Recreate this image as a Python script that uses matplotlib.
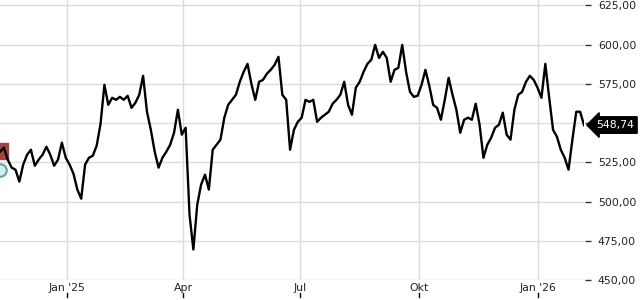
import matplotlib
matplotlib.use("Agg")
import matplotlib.pyplot as plt
import matplotlib.transforms as mtransforms
import pandas as pd

# ---- data ----
start_date = "2024-11-10"
closes = [
    531.7, 534.3, 526.7, 521.6, 520.3, 512.7, 523.5, 529.8, 533.0, 522.8,
    526.7, 529.8, 534.9, 529.8, 522.8, 526.7, 537.5, 527.9, 523.5, 517.7,
    507.6, 501.8, 523.5, 527.9, 529.2, 535.6, 549.6, 574.4, 561.6, 566.1,
    564.8, 566.7, 564.8, 567.4, 559.7, 562.9, 568.0, 580.1, 557.2, 545.7,
    531.7, 521.6, 527.9, 531.7, 536.2, 543.8, 558.5, 542.6, 547.0, 491.7,
    469.4, 498.0, 510.8, 517.1, 507.6, 533.0, 536.2, 539.4, 553.4, 561.6,
    564.8, 568.0, 576.3, 582.6, 587.7, 575.0, 564.8, 576.3, 577.5, 581.4,
    583.9, 587.1, 592.2, 568.0, 564.8, 533.0, 545.7, 550.8, 553.4, 564.8,
    563.5, 564.8, 550.8, 553.4, 555.3, 557.2, 562.3, 564.8, 568.0, 576.3,
    561.6, 555.3, 572.5, 576.3, 582.6, 587.7, 590.3, 599.8, 591.5, 595.4,
    591.5, 576.3, 583.9, 585.2, 599.8, 582.6, 569.9, 566.7, 567.4, 574.4,
    583.9, 573.7, 561.6, 559.7, 552.1, 564.8, 578.8, 568.0, 558.5, 543.8,
    552.1, 553.4, 552.1, 562.3, 548.9, 527.9, 536.2, 540.7, 547.0, 548.9,
    556.6, 542.6, 539.4, 558.5, 568.0, 569.9, 576.3, 580.1, 577.5, 572.5,
    566.1, 587.7, 566.1, 545.7, 541.3, 533.0, 527.9, 520.3, 539.4, 557.2,
    557.2, 548.74,
]
last_price = 548.74
event_red_price = 532.1
event_teal_price = 520.3

x_tick_dates = ["2025-01-01", "2025-04-01", "2025-07-01", "2025-10-01", "2026-01-01"]
x_tick_labels = ["Jan '25", "Apr", "Jul", "Okt", "Jan '26"]
y_ticks = [450, 475, 500, 525, 550, 575, 600, 625]

dates = pd.date_range(start_date, periods=len(closes), freq="3D")

# ---- figure ----
fig = plt.figure(figsize=(6.4, 3.0), dpi=100)
ax = fig.add_axes([0, 20 / 300, 584 / 640, 280 / 300])

grid_c = "#dcdcdc"
ax.plot(dates, closes, color="black", lw=1.7, zorder=3)

# event markers at the left edge
ax.plot([dates[0]], [event_red_price], marker="s", ms=12, color="#a5443d",
        zorder=2, linestyle="none")
ax.plot([dates[0]], [event_teal_price], marker="o", ms=9, mfc="#d3ecef",
        mec="#56a7b1", mew=1.5, zorder=2, linestyle="none")

ax.set_xlim(pd.Timestamp(start_date), pd.Timestamp(start_date) + pd.Timedelta(days=453))
ax.set_ylim(450, 628.4)

for s in ax.spines.values():
    s.set_visible(False)

ax.set_yticks(y_ticks)
# the 550 label sits under the last-price tag in the reference
ax.set_yticklabels(["" if v == 550 else f"{v:.2f}".replace(".", ",") for v in y_ticks])
ax.yaxis.tick_right()
ax.spines["right"].set_position(("outward", 1))
ax.tick_params(axis="y", length=4, width=1, color="#333333", pad=5,
               labelsize=7.8, labelcolor="#222222")

xt = [pd.Timestamp(d) for d in x_tick_dates]
ax.set_xticks(xt)
ax.set_xticklabels(x_tick_labels)
ax.tick_params(axis="x", length=0, pad=2.5, labelsize=7.8, labelcolor="#222222")

ax.grid(True, color=grid_c, lw=1)
ax.set_axisbelow(True)

# small tick marks below the x labels
trans = mtransforms.blended_transform_factory(ax.transData, ax.transAxes)
for d in xt:
    ax.plot([d, d], [-0.047, -0.062], color="black", lw=1, transform=trans,
            clip_on=False)

# last price tag
ax.annotate(f"{last_price:.2f}".replace(".", ","),
            xy=(1.0, last_price), xycoords=("axes fraction", "data"),
            xytext=(12, 0), textcoords="offset pixels",
            ha="left", va="center", color="white", fontsize=7.8,
            bbox=dict(boxstyle="larrow,pad=0.3", fc="black", ec="black"),
            zorder=10, annotation_clip=False)

fig.savefig("out.png", dpi=100)
